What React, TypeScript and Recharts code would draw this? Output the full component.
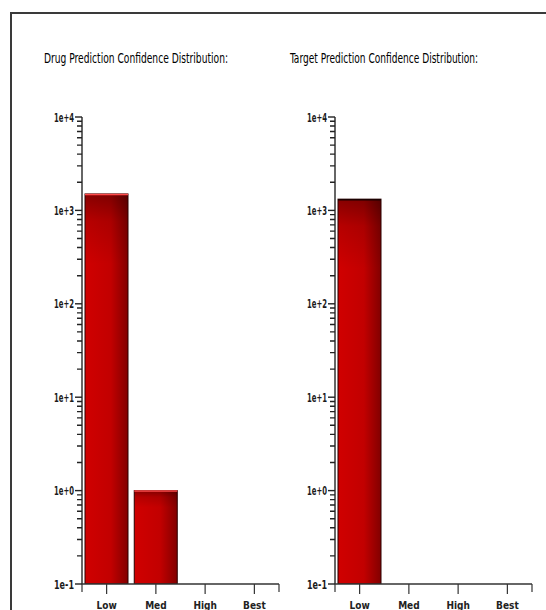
import { BarChart, Bar, XAxis, YAxis } from "recharts";

const categories = ["Low", "Med", "High", "Best"];
const drugCounts = [1500, 1, null, null];
const targetCounts = [1320, null, null, null];

const decadeTicks = [0.1, 1, 10, 100, 1000, 10000];
const decadeLabels = ["1e-1", "1e+0", "1e+1", "1e+2", "1e+3", "1e+4"];
const minorSteps = [2, 3, 4, 5, 6, 7, 8, 9];

const PLOT_TOP = 117;
const PLOT_BOTTOM = 584;
const DECADE_PX = (PLOT_BOTTOM - PLOT_TOP) / (decadeTicks.length - 1);

const FONT = "'Liberation Sans Narrow', 'Arial Narrow', 'DejaVu Sans Condensed', sans-serif";

function YTick(props: any) {
  const { x, y, payload } = props;
  const idx = decadeTicks.indexOf(payload.value);
  const last = idx === decadeTicks.length - 1;
  const ax = Number(x);
  const ay = Number(y);
  const minorPath = last
    ? ""
    : minorSteps
        .map((m) => {
          const my = ay - Math.log10(m) * DECADE_PX;
          return `M${ax - 5},${my}H${ax}`;
        })
        .join("");
  return (
    <g>
      <path d={`M${ax - 7},${ay}H${ax}`} stroke="#222" strokeWidth={1.4} fill="none" />
      {minorPath && <path d={minorPath} stroke="#222" strokeWidth={1.4} fill="none" />}
      <text
        x={ax - 8}
        y={ay}
        dy={4.5}
        textAnchor="end"
        fontSize={13}
        fontWeight="bold"
        fill="#1a1a1a"
        fontFamily={FONT}
        textLength={20}
        lengthAdjust="spacingAndGlyphs"
      >
        {decadeLabels[idx]}
      </text>
    </g>
  );
}

function XTick(props: any) {
  const { x, y, payload, index } = props;
  const off = payload.offset || 0;
  return (
    <g>
      <line x1={x} x2={x} y1={y} y2={y + 10} stroke="#333" strokeWidth={1.2} />
      {index === 0 && <line x1={x - off} x2={x - off} y1={y} y2={y + 8} stroke="#333" strokeWidth={1.2} />}
      {index === categories.length - 1 && (
        <line x1={x + off} x2={x + off} y1={y} y2={y + 8} stroke="#333" strokeWidth={1.2} />
      )}
      <text x={x} y={y + 25} textAnchor="middle" fontSize={10} fontWeight="bold" fill="#222" fontFamily={FONT}>
        {payload.value}
      </text>
    </g>
  );
}

function makeShape(id: string, topColor: string) {
  return (props: any) => {
    const { x, y, width, height } = props;
    if (!height || height <= 0) return <g />;
    return (
      <g>
        <rect x={x} y={y} width={width} height={height} fill={`url(#${id}H)`} />
        <rect x={x} y={y} width={width} height={height} fill={`url(#${id}V)`} />
        <rect x={x} y={y} width={width} height={height} fill="none" stroke="#2a0000" strokeWidth={1} />
        <line x1={x} x2={x + width} y1={y + 0.5} y2={y + 0.5} stroke={topColor} strokeWidth={1.5} />
      </g>
    );
  };
}

function ConfChart({ counts, id, topColor }: { counts: (number | null)[]; id: string; topColor: string }) {
  const data = categories.map((c, i) => ({ cat: c, count: counts[i] }));
  return (
    <BarChart
      width={290}
      height={640}
      data={data}
      margin={{ top: PLOT_TOP, right: 11, bottom: 26, left: 0 }}
      barCategoryGap={3}
    >
      <defs>
        <linearGradient id={`${id}H`} x1="0" y1="0" x2="1" y2="0">
          <stop offset="0%" stopColor="#d00000" />
          <stop offset="60%" stopColor="#c20000" />
          <stop offset="100%" stopColor="#820000" />
        </linearGradient>
        <linearGradient id={`${id}V`} x1="0" y1="0" x2="0" y2="1">
          <stop offset="0%" stopColor="#000" stopOpacity={0.35} />
          <stop offset="7%" stopColor="#000" stopOpacity={0.12} />
          <stop offset="18%" stopColor="#000" stopOpacity={0} />
        </linearGradient>
      </defs>
      <XAxis
        dataKey="cat"
        height={30}
        tickSize={0}
        tickMargin={0}
        tickLine={false}
        tick={<XTick />}
        axisLine={{ stroke: "#333", strokeWidth: 1.5 }}
        interval={0}
      />
      <YAxis
        scale="log"
        domain={[0.1, 10000]}
        ticks={decadeTicks}
        allowDataOverflow
        width={82}
        tickSize={0}
        tickMargin={0}
        tickLine={false}
        tick={<YTick />}
        interval={0}
        axisLine={{ stroke: "#333", strokeWidth: 1.5 }}
      />
      <Bar dataKey="count" isAnimationActive={false} shape={makeShape(id, topColor)} />
    </BarChart>
  );
}

export default function App() {
  return (
    <div
      style={{
        position: "fixed",
        left: 0,
        top: 0,
        width: 546,
        height: 610,
        overflow: "hidden",
        background: "#fff",
      }}
    >
      <div
        style={{
          position: "absolute",
          left: 10,
          top: 12,
          width: 560,
          height: 640,
          border: "2px solid #3a3a3a",
        }}
      />
      <svg width={546} height={90} style={{ position: "absolute", left: 0, top: 0 }}>
        <g transform="translate(44,63) scale(1,1.12)">
          <text x={0} y={0} fontSize={13} fill="#000" fontFamily={FONT} textLength={184} lengthAdjust="spacingAndGlyphs">
            Drug Prediction Confidence Distribution:
          </text>
        </g>
        <g transform="translate(290,63) scale(1,1.12)">
          <text x={0} y={0} fontSize={13} fill="#000" fontFamily={FONT} textLength={188} lengthAdjust="spacingAndGlyphs">
            Target Prediction Confidence Distribution:
          </text>
        </g>
      </svg>
      <div style={{ position: "absolute", left: 0, top: 0 }}>
        <ConfChart counts={drugCounts} id="drug" topColor="#ff4a4a" />
      </div>
      <div style={{ position: "absolute", left: 253, top: 0 }}>
        <ConfChart counts={targetCounts} id="target" topColor="#1a0000" />
      </div>
    </div>
  );
}
